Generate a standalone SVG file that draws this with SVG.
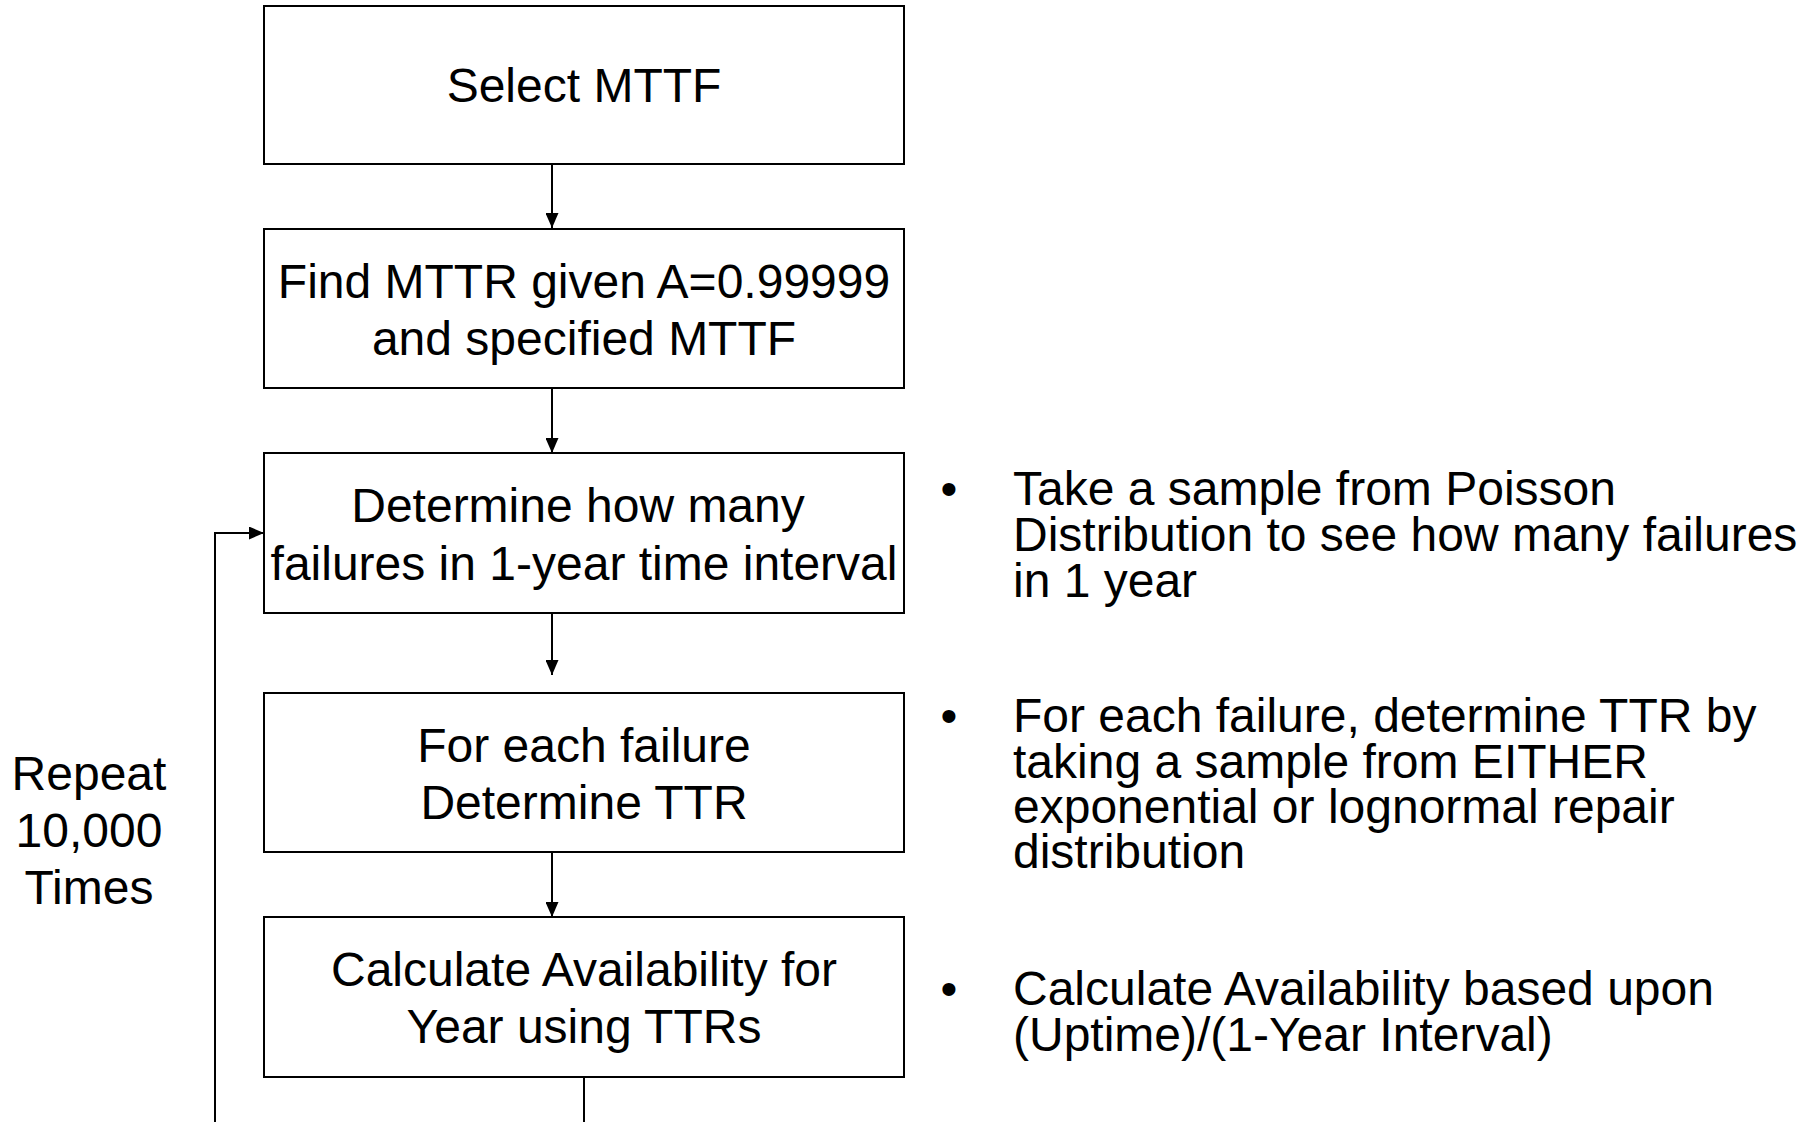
<svg xmlns="http://www.w3.org/2000/svg" width="1808" height="1122" viewBox="0 0 1808 1122">
<style>
.box{fill:#fff;stroke:#000;stroke-width:2}
.t{font-family:"Liberation Sans",Arial,sans-serif;font-size:48px;fill:#000}
.c{text-anchor:middle}
.ln{fill:none;stroke:#000;stroke-width:2}
</style>
<defs>
<marker id="ah" viewBox="0 0 15 13" refX="15" refY="6.5" markerWidth="15" markerHeight="13" markerUnits="userSpaceOnUse" orient="auto">
<path d="M0,0 L15,6.5 L0,13 Z" fill="#000"/>
</marker>
</defs>
<rect width="1808" height="1122" fill="#fff"/>
<g id="connectors">
<line class="ln" x1="552" y1="164" x2="552" y2="228" marker-end="url(#ah)"/>
<line class="ln" x1="552" y1="388" x2="552" y2="453" marker-end="url(#ah)"/>
<line class="ln" x1="552" y1="613" x2="552" y2="675" marker-end="url(#ah)"/>
<line class="ln" x1="552" y1="852" x2="552" y2="917" marker-end="url(#ah)"/>
<path class="ln" d="M584,1077 L584,1122"/>
<path class="ln" d="M215,1122 L215,533 L264,533" marker-end="url(#ah)"/>
</g>
<g id="n1">
<rect class="box" x="264" y="6" width="640" height="158"/>
<text class="t c" x="584" y="102">Select MTTF</text>
</g>
<g id="n2">
<rect class="box" x="264" y="229" width="640" height="159"/>
<text class="t c" x="584" y="298">Find MTTR given A=0.99999</text>
<text class="t c" x="584" y="355">and specified MTTF</text>
</g>
<g id="n3">
<rect class="box" x="264" y="453" width="640" height="160"/>
<text class="t c" x="578" y="522">Determine how many</text>
<text class="t c" x="584" y="580">failures in 1-year time interval</text>
</g>
<g id="n4">
<rect class="box" x="264" y="693" width="640" height="159"/>
<text class="t c" x="584" y="762">For each failure</text>
<text class="t c" x="584" y="819">Determine TTR</text>
</g>
<g id="n5">
<rect class="box" x="264" y="917" width="640" height="160"/>
<text class="t c" x="584" y="986">Calculate Availability for</text>
<text class="t c" x="584" y="1043">Year using TTRs</text>
</g>
<g id="repeat">
<text class="t c" x="89" y="790">Repeat</text>
<text class="t c" x="89" y="847">10,000</text>
<text class="t c" x="89" y="904">Times</text>
</g>
<g id="notes">
<text class="t c" x="949" y="505">•</text>
<text class="t" x="1013" y="505">Take a sample from Poisson</text>
<text class="t" x="1013" y="551">Distribution to see how many failures</text>
<text class="t" x="1013" y="597">in 1 year</text>
<text class="t c" x="949" y="732">•</text>
<text class="t" x="1013" y="732">For each failure, determine TTR by</text>
<text class="t" x="1013" y="778">taking a sample from EITHER</text>
<text class="t" x="1013" y="823">exponential or lognormal repair</text>
<text class="t" x="1013" y="868">distribution</text>
<text class="t c" x="949" y="1005">•</text>
<text class="t" x="1013" y="1005">Calculate Availability based upon</text>
<text class="t" x="1013" y="1051">(Uptime)/(1-Year Interval)</text>
</g>
</svg>
